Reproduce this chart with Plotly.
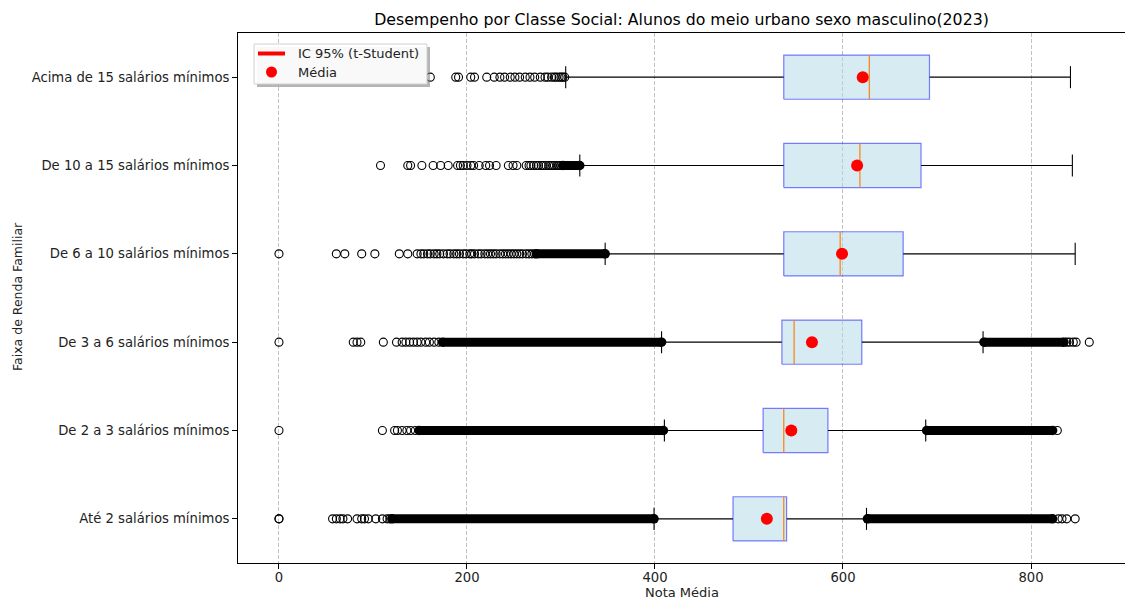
import plotly.graph_objects as go

# ---------------- data ----------------
categories = [
    "Até 2 salários mínimos",
    "De 2 a 3 salários mínimos",
    "De 3 a 6 salários mínimos",
    "De 6 a 10 salários mínimos",
    "De 10 a 15 salários mínimos",
    "Acima de 15 salários mínimos",
]
q1 = [483, 515, 535, 537, 537, 537]
median = [537, 537, 548, 597, 618, 628]
q3 = [540, 584, 620, 664, 683, 692]
whisker_low = [399, 410, 407, 347, 320, 305]
whisker_high = [625, 688, 749, 847, 844, 842]
mean = [519, 545, 567, 599, 615, 621]
ci_low = [518.5, 544.3, 566.4, 597.8, 612.5, 617.5]
ci_high = [519.5, 545.7, 567.6, 600.2, 617.5, 624.5]

# individually visible outliers per category
outliers = [
    [0, 0, 57, 61, 65, 68, 73, 83, 88, 91, 95, 103, 110, 115, 118, 829, 833, 838, 847],
    [0, 110, 123, 126, 131, 136, 140, 145, 828],
    [0, 79, 83, 87, 111, 125, 131, 135, 139, 143, 147, 151, 156, 160, 165, 170,
     838, 841, 845, 848, 862],
    [0, 61, 70, 88, 102, 128, 137, 147, 151, 154, 158, 161, 165, 168, 171, 175, 179,
     182, 186, 189, 192, 196, 199, 203, 205, 208, 212, 215, 219, 222, 225, 228, 231,
     235, 238, 241, 244, 247, 250, 253, 256, 259, 263, 266, 269, 272],
    [108, 137, 140, 152, 164, 172, 180, 190, 193, 196, 200, 204, 207, 213, 220, 224,
     231, 244, 249, 253, 263, 266, 268, 271, 274, 276, 279, 281, 284, 287, 289, 291,
     293, 296, 298, 300],
    [161, 188, 191, 204, 208, 221, 229, 235, 240, 246, 251, 256, 262, 267, 272, 278,
     283, 286, 290, 293, 295, 298, 300, 302, 304],
]
# stretches where the outlier circles overlap into a solid band: (start, end)
dense_outliers = [
    [(120, 399), (626, 823)],
    [(149, 409), (689, 823)],
    [(174, 407), (750, 835)],
    [(274, 347)],
    [(302, 320)],
    [],
]

x_ticks = [0, 200, 400, 600, 800]
legend_labels = ["IC 95% (t-Student)", "Média"]

# ---------------- figure ----------------
BOX_HALF = 0.25
CAP_HALF = 0.125
FONT = "DejaVu Sans"
W, H = 1125, 600
ML, MR, MT, MB = 238, 0, 33, 37
PW, PH = W - ML - MR, H - MT - MB


def px_x(px):
    return (px - ML) / PW


def px_y(py):
    return (H - MB - py) / PH


fig = go.Figure()
ypos = list(range(1, len(categories) + 1))

# sparse outliers
ox, oy = [], []
for y, vals in zip(ypos, outliers):
    ox += vals
    oy += [y] * len(vals)
fig.add_trace(go.Scatter(
    x=ox, y=oy, mode="markers", showlegend=False, hoverinfo="skip",
    marker=dict(symbol="circle-open", size=8, color="black", line=dict(width=1.1)),
))

# dense outlier bands
bx, by, ex, ey = [], [], [], []
for y, ranges in zip(ypos, dense_outliers):
    for a, b in ranges:
        bx += [a, b, None]
        by += [y, y, None]
        ex += [a, b]
        ey += [y, y]
fig.add_trace(go.Scatter(
    x=bx, y=by, mode="lines", showlegend=False, hoverinfo="skip",
    line=dict(color="black", width=9),
))
fig.add_trace(go.Scatter(
    x=ex, y=ey, mode="markers", showlegend=False, hoverinfo="skip",
    marker=dict(symbol="circle", size=9.5, color="black", line=dict(width=0)),
))

# whiskers and caps
wx, wy = [], []
for y, lo, a, b, hi in zip(ypos, whisker_low, q1, q3, whisker_high):
    wx += [lo, a, None, b, hi, None, lo, lo, None, hi, hi, None]
    wy += [y, y, None, y, y, None, y - CAP_HALF, y + CAP_HALF, None,
           y - CAP_HALF, y + CAP_HALF, None]
fig.add_trace(go.Scatter(
    x=wx, y=wy, mode="lines", showlegend=False, hoverinfo="skip",
    line=dict(color="black", width=1.1),
))

# boxes
for y, a, b in zip(ypos, q1, q3):
    fig.add_trace(go.Scatter(
        x=[a, b, b, a, a],
        y=[y - BOX_HALF, y - BOX_HALF, y + BOX_HALF, y + BOX_HALF, y - BOX_HALF],
        mode="lines", fill="toself", fillcolor="rgba(173,216,230,0.5)",
        line=dict(color="rgba(0,0,255,0.5)", width=1.2),
        showlegend=False, hoverinfo="skip",
    ))

# medians
mx, my = [], []
for y, m in zip(ypos, median):
    mx += [m, m, None]
    my += [y - BOX_HALF, y + BOX_HALF, None]
fig.add_trace(go.Scatter(
    x=mx, y=my, mode="lines", showlegend=False, hoverinfo="skip",
    line=dict(color="#ff7f0e", width=1.2),
))

# confidence intervals
cx, cy = [], []
for y, a, b in zip(ypos, ci_low, ci_high):
    cx += [a, b, None]
    cy += [y, y, None]
fig.add_trace(go.Scatter(
    x=cx, y=cy, mode="lines", name=legend_labels[0], showlegend=False,
    line=dict(color="red", width=4),
))

# means
fig.add_trace(go.Scatter(
    x=mean, y=ypos, mode="markers", name=legend_labels[1], showlegend=False,
    marker=dict(symbol="circle", size=12, color="red"),
))

# ---- legend drawn by hand (matplotlib style, with shadow) ----
shapes = []
lx0, lx1, ly0, ly1 = 254, 427, 44, 84
shapes.append(dict(type="rect", xref="paper", yref="paper", layer="above",
                   x0=px_x(lx0 + 3), x1=px_x(lx1 + 3), y0=px_y(ly1 + 3), y1=px_y(ly0 + 3),
                   fillcolor="rgba(120,120,120,0.55)", line=dict(width=0)))
shapes.append(dict(type="rect", xref="paper", yref="paper", layer="above",
                   x0=px_x(lx0), x1=px_x(lx1), y0=px_y(ly1), y1=px_y(ly0),
                   fillcolor="rgba(255,255,255,0.92)",
                   line=dict(color="#d0d0d0", width=1)))
shapes.append(dict(type="line", xref="paper", yref="paper", layer="above",
                   x0=px_x(258), x1=px_x(285), y0=px_y(53.5), y1=px_y(53.5),
                   line=dict(color="red", width=4)))
shapes.append(dict(type="circle", xref="paper", yref="paper", layer="above",
                   x0=px_x(266), x1=px_x(277), y0=px_y(77.5), y1=px_y(66.5),
                   fillcolor="red", line=dict(width=0)))

annotations = [
    dict(text=legend_labels[0], x=px_x(296), y=px_y(53.5), xref="paper", yref="paper",
         xanchor="left", yanchor="middle", showarrow=False,
         font=dict(size=13, color="#222", family=FONT)),
    dict(text=legend_labels[1], x=px_x(296), y=px_y(72), xref="paper", yref="paper",
         xanchor="left", yanchor="middle", showarrow=False,
         font=dict(size=13, color="#222", family=FONT)),
    dict(text="Nota Média", x=0.5, y=px_y(592), xref="paper", yref="paper",
         xanchor="center", yanchor="middle", showarrow=False,
         font=dict(size=13, color="#222", family=FONT)),
    dict(text="Faixa de Renda Familiar", x=px_x(17), y=px_y(297), xref="paper",
         yref="paper", xanchor="center", yanchor="middle", showarrow=False,
         textangle=-90, font=dict(size=12.5, color="#222", family=FONT)),
]

fig.update_layout(
    width=W, height=H,
    margin=dict(l=ML, r=MR, t=MT, b=MB, autoexpand=False),
    paper_bgcolor="white", plot_bgcolor="white",
    font=dict(family=FONT, size=13.2, color="#222"),
    title=dict(
        text="Desempenho por Classe Social: Alunos do meio urbano sexo masculino(2023)",
        x=0.5, xref="paper", xanchor="center",
        y=1 - 19 / 600, yref="container", yanchor="middle",
        font=dict(size=15.75, color="black", family=FONT),
    ),
    showlegend=False,
    shapes=shapes,
    annotations=annotations,
)

fig.update_xaxes(
    range=[-43.6, 900], tickvals=x_ticks, ticktext=[str(v) for v in x_ticks],
    showline=True, linecolor="black", linewidth=1, mirror=True,
    ticks="outside", ticklen=5, tickcolor="black", tickwidth=1,
    ticklabelstandoff=-3,
    showgrid=True, gridcolor="rgba(176,176,176,0.8)", gridwidth=1, griddash="4px,2px",
    zeroline=False,
)
fig.update_yaxes(
    range=[0.5, 6.5], tickvals=ypos, ticktext=categories,
    showline=True, linecolor="black", linewidth=1, mirror=False,
    ticks="outside", ticklen=5, tickcolor="black", tickwidth=1,
    showgrid=False, zeroline=False,
)

fig.write_html("out.html")
